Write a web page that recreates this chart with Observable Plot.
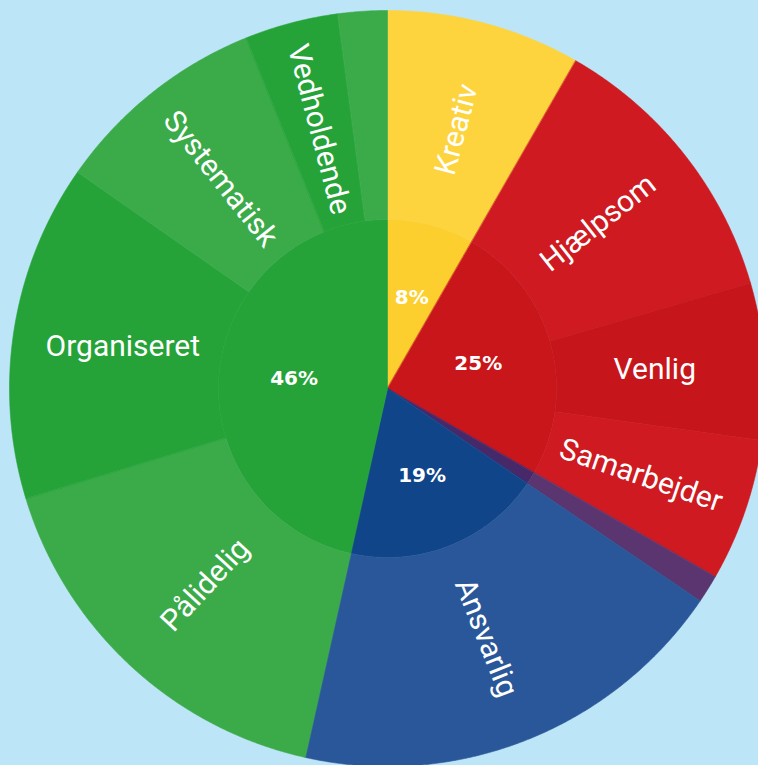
<!DOCTYPE html>
<html>
<head>
<meta charset="utf-8">
<script src="https://cdn.jsdelivr.net/npm/d3@7"></script>
<script src="https://cdn.jsdelivr.net/npm/@observablehq/plot@0.6"></script>
<style>
  html, body { margin: 0; padding: 0; background: #bde5f8; }
  #chart { width: 758px; height: 765px; overflow: hidden; }
</style>
</head>
<body>
<div id="chart"></div>
<script>
// ---- Data ----
// Inner ring: groups (share of 100%)
const groups      = ["Gul", "Rød", "Lilla", "Blå", "Grøn"];
const groupShares = [8.3, 25.0, 1.2, 19.0, 46.5];
const groupLabels = ["8%", "25%", "", "19%", "46%"];
const groupColors = ["#fccf2e", "#c8161b", "#47296a", "#104589", "#25a338"];

// Outer ring: traits (share of 100%), in the same clockwise order
const traits      = ["Kreativ", "Hjælpsom", "Venlig", "Samarbejder", "", "Ansvarlig",
                     "Pålidelig", "Organiseret", "Systematisk", "Vedholdende", ""];
const traitGroup  = ["Gul", "Rød", "Rød", "Rød", "Lilla", "Blå",
                     "Grøn", "Grøn", "Grøn", "Grøn", "Grøn"];
const traitShares = [8.3, 12.2, 6.7, 6.1, 1.2, 19.0, 16.8, 14.4, 9.2, 4.0, 2.1];
const traitColors = ["#fdd43d", "#ce1a20", "#c7161b", "#ce1a20", "#5a356f", "#2a5799",
                     "#3aab48", "#25a338", "#3aab48", "#25a338", "#3aab48"];

// ---- Layout ----
const W = 758, H = 765;
const CX = 387, CY = 388;     // centre in pixels
const R = 378, R0 = 169;      // outer radius, inner ring radius
const rInner = R0 / R;        // in units of the outer radius

function slices(shares, r0, r1) {
  let acc = 0;
  return shares.map((s, i) => {
    const a0 = acc / 100 * 2 * Math.PI;
    acc += s;
    const a1 = acc / 100 * 2 * Math.PI;
    return {i, a0, a1, r0, r1, mid: (a0 + a1) / 2};
  });
}
function polygon(a0, a1, r0, r1) {
  const n = Math.max(2, Math.ceil((a1 - a0) / 0.005));
  const pts = [];
  for (let k = 0; k <= n; k++) {
    const a = a0 + (a1 - a0) * k / n;
    pts.push([r1 * Math.sin(a), -r1 * Math.cos(a)]);
  }
  if (r0 > 0) {
    for (let k = n; k >= 0; k--) {
      const a = a0 + (a1 - a0) * k / n;
      pts.push([r0 * Math.sin(a), -r0 * Math.cos(a)]);
    }
  } else pts.push([0, 0]);
  pts.push(pts[0]);
  return {type: "Polygon", coordinates: [pts]};
}

const inner = slices(groupShares, 0, rInner).map(d => ({
  ...d, name: groups[d.i], label: groupLabels[d.i], color: groupColors[d.i],
  geom: polygon(d.a0, d.a1, d.r0, d.r1)
}));
const outer = slices(traitShares, rInner, 1).map(d => ({
  ...d, name: traits[d.i], group: traitGroup[d.i], color: traitColors[d.i],
  geom: polygon(d.a0, d.a1, d.r0, d.r1)
}));

const innerLabelR = 94 / R;
const outerLabelR = 268 / R;

function radialRotate(a) {
  const deg = a * 180 / Math.PI;
  let rot = deg < 180 ? deg - 90 : deg - 270;
  if (Math.abs(rot) < 10) rot = 0;   // near-horizontal labels are kept level
  return rot;
}

const domain = {
  type: "MultiPoint",
  coordinates: [[-CX / R, -CY / R], [(W - CX) / R, (H - CY) / R]]
};

const chart = Plot.plot({
  width: W,
  height: H,
  margin: 0,
  projection: {type: "identity", domain},
  color: {type: "identity"},
  style: {background: "transparent", overflow: "hidden"},
  marks: [
    Plot.geo(inner, {geometry: d => d.geom, fill: d => d.color, stroke: d => d.color, strokeWidth: 0.6}),
    Plot.geo(outer, {geometry: d => d.geom, fill: d => d.color, stroke: d => d.color, strokeWidth: 0.6}),
    Plot.text(outer.filter(d => d.name), {
      x: d => outerLabelR * Math.sin(d.mid),
      y: d => -outerLabelR * Math.cos(d.mid),
      text: d => d.name,
      rotate: d => radialRotate(d.mid),
      fill: "white",
      fontSize: 30,
      fontFamily: "Roboto, sans-serif",
      textAnchor: "middle",
      lineAnchor: "middle"
    }),
    Plot.text(inner.filter(d => d.label), {
      x: d => innerLabelR * Math.sin(d.mid),
      y: d => -innerLabelR * Math.cos(d.mid),
      text: d => d.label,
      fill: "white",
      fontSize: 20,
      fontWeight: "bold",
      fontFamily: "DejaVu Sans, sans-serif",
      textAnchor: "middle",
      lineAnchor: "middle"
    })
  ]
});
document.getElementById("chart").appendChild(chart);
</script>
</body>
</html>
